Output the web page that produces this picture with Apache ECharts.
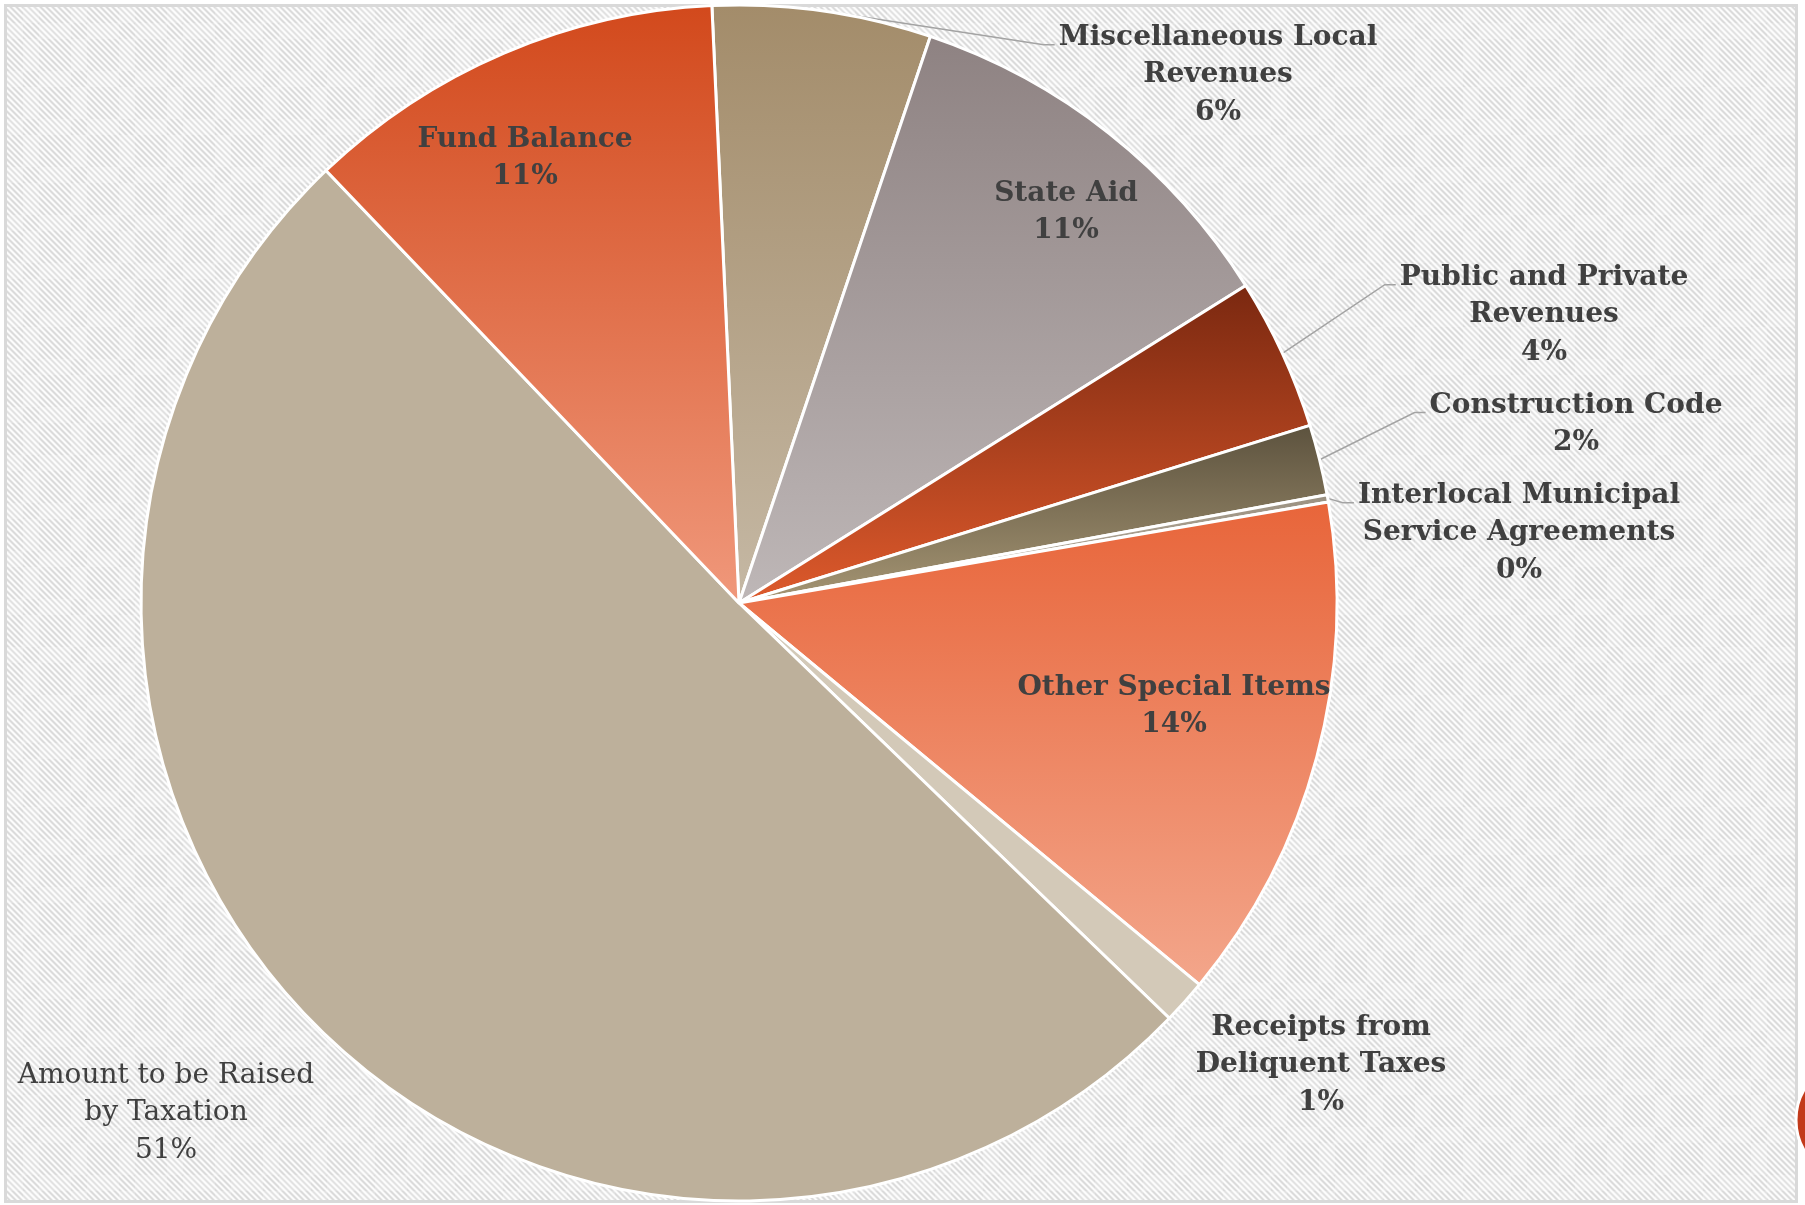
<!DOCTYPE html>
<html>
<head>
<meta charset="utf-8">
<script src="https://cdn.jsdelivr.net/npm/echarts@6/dist/echarts.min.js"></script>
<style>
  html, body { margin: 0; padding: 0; background: #ffffff; }
  #wrap { position: absolute; left: 0; top: 0; width: 1805px; height: 1205px; overflow: hidden; }
  #frame {
    position: absolute; left: 4px; top: 4px; width: 1788px; height: 1193px;
    border: 3px solid #d9d9d9;
    background-color: #efefef;
  }
  #chart { position: absolute; left: 0; top: 0; width: 1805px; height: 1205px; }
</style>
</head>
<body>
<div id="wrap">
  <div id="frame"></div>
  <div id="chart"></div>
</div>
<script>
// Revenue sources, clockwise from 12 o'clock
const categories = [
  'Miscellaneous Local\nRevenues',
  'State Aid',
  'Public and Private\nRevenues',
  'Construction Code',
  'Interlocal Municipal\nService Agreements',
  'Other Special Items',
  'Receipts from\nDeliquent Taxes',
  'Amount to be Raised\nby Taxation',
  'Fund Balance'
];
// Share of total revenue (percent)
const shares = [5.9, 10.9, 4.1, 1.9, 0.2, 13.7, 1.2, 50.6, 11.4];

// Which labels sit inside their slice, and which get a leader line
const insideLabels = ['State Aid', 'Other Special Items', 'Fund Balance'];
const leaderLabels = [
  'Miscellaneous Local\nRevenues',
  'Public and Private\nRevenues',
  'Construction Code',
  'Interlocal Municipal\nService Agreements'
];
const plainWeightLabels = ['Amount to be Raised\nby Taxation'];

// Vertical gradient (top, bottom) per slice
const sliceColors = [
  ['#A38C6A', '#C5B8A4'],
  ['#8E8282', '#BEB7B7'],
  ['#7A2810', '#DE5A2C'],
  ['#5C523E', '#A69674'],
  ['#9A9080', '#C0B6A6'],
  ['#E8653A', '#F3A68B'],
  ['#D3C9B8', '#D3C9B8'],
  ['#BDB09B', '#BDB09B'],
  ['#D2491C', '#F0987B']
];

// Label block centres (page pixels)
const labelCenters = [
  [1218, 75], [1066, 212], [1544, 315], [1576, 424], [1519, 533],
  [1174, 706], [1321, 1065], [166, 1113], [525, 158]
];

// Hatched backdrop: fine "\" stripes over a faint 16px checker
(function paintBackdrop() {
  const size = 48;
  const cv = document.createElement('canvas');
  cv.width = size; cv.height = size;
  const ctx = cv.getContext('2d');
  const img = ctx.createImageData(size, size);
  for (let y = 0; y < size; y++) {
    for (let x = 0; x < size; x++) {
      const dark = ((Math.floor(x / 16) + Math.floor(y / 16)) % 2) === 0;
      const s = (((x - y) % 6) + 6) % 6;
      let v;
      if (s < 2) v = 252;
      else if (s === 2 || s === 5) v = dark ? 236 : 240;
      else v = dark ? 219 : 226;
      const k = (y * size + x) * 4;
      img.data[k] = v; img.data[k + 1] = v; img.data[k + 2] = v; img.data[k + 3] = 255;
    }
  }
  ctx.putImageData(img, 0, 0);
  document.getElementById('frame').style.backgroundImage = 'url(' + cv.toDataURL() + ')';
})();

const chart = echarts.init(document.getElementById('chart'), null, { renderer: 'canvas' });

const seriesData = categories.map(function (name, i) {
  const inside = insideLabels.indexOf(name) >= 0;
  const lead = leaderLabels.indexOf(name) >= 0;
  return {
    name: name,
    value: shares[i],
    itemStyle: {
      color: new echarts.graphic.LinearGradient(0, 0, 0, 1, [
        { offset: 0, color: sliceColors[i][0] },
        { offset: 1, color: sliceColors[i][1] }
      ])
    },
    label: {
      position: inside ? 'inside' : 'outside',
      fontWeight: plainWeightLabels.indexOf(name) >= 0 ? 'normal' : 'bold'
    },
    labelLine: { show: lead }
  };
});

chart.setOption({
  backgroundColor: 'transparent',
  animation: false,
  graphic: [{
    // emblem peeking in at the right edge
    type: 'circle',
    shape: { cx: 1856, cy: 1120, r: 60 },
    style: { fill: '#C23A1A', stroke: '#ffffff', lineWidth: 3 },
    z: 0
  }],
  series: [{
    type: 'pie',
    center: [739, 603],
    radius: 598,
    startAngle: 92.6,
    clockwise: true,
    avoidLabelOverlap: false,
    percentPrecision: 0,
    data: seriesData,
    itemStyle: { borderColor: '#ffffff', borderWidth: 3 },
    label: {
      show: true,
      formatter: function (p) { return p.name + '\n' + p.percent + '%'; },
      fontFamily: "Rockwell, 'DejaVu Serif', serif",
      fontSize: 28,
      lineHeight: 37.5,
      color: '#404040',
      align: 'center'
    },
    labelLine: {
      length: 20,
      length2: 10,
      lineStyle: { color: '#a3a3a3', width: 1.5 }
    },
    emphasis: { disabled: true },
    labelLayout: function (p) {
      const c = labelCenters[p.dataIndex];
      const w = p.labelRect.width, h = p.labelRect.height;
      const out = { x: c[0], y: c[1], align: 'center', verticalAlign: 'middle' };
      if (p.labelLinePoints) {
        const left = c[0] - w / 2, top = c[1] - h / 2;
        const end = [left - 4, top + 26];
        out.labelLinePoints = [p.labelLinePoints[0], [end[0] - 11, end[1]], end];
      }
      return out;
    }
  }]
});
</script>
</body>
</html>
